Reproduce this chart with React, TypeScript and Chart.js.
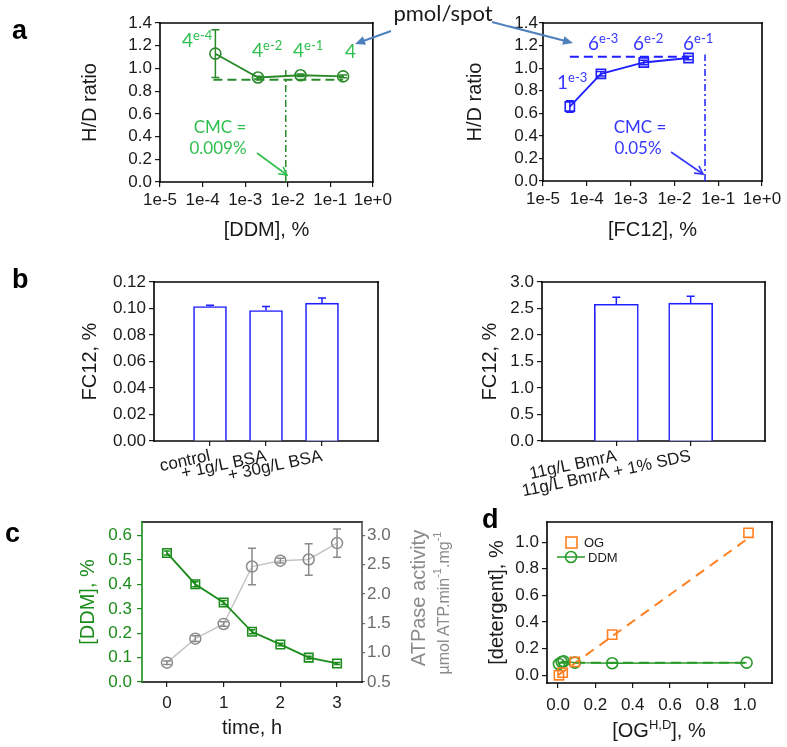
import React, { useEffect, useRef } from 'react';
import { Chart, registerables } from 'chart.js';
Chart.register(...registerables);

// ---------------- data ----------------
const DECADE_TICKS = [1e-5, 1e-4, 1e-3, 1e-2, 1e-1, 1];
const RATIO_TICKS = [0, 0.2, 0.4, 0.6, 0.8, 1.0, 1.2, 1.4];

const ddmConc = [2e-4, 2e-3, 2e-2, 2e-1];
const ddmRatio = [1.13, 0.92, 0.94, 0.93];
const ddmRatioErr = [0.21, 0.012, 0.012, 0.012];
const ddmPlateauX = [1.8e-4, 2e-1];
const ddmPlateauY = [0.9, 0.9];
const ddmCmcX = [0.009, 0.009];
const ddmCmcY = [0, 1.01];

const fcConc = [4.1e-5, 2.1e-4, 2.0e-3, 2.1e-2];
const fcRatio = [0.66, 0.95, 1.05, 1.09];
const fcRatioErr = [0.05, 0.02, 0.02, 0.015];
const fcPlateauX = [4.1e-5, 2.0e-2];
const fcPlateauY = [1.1, 1.1];
const fcCmcX = [0.05, 0.05];
const fcCmcY = [0, 1.12];

const bsaLabels = ['control', '+ 1g/L BSA', '+ 30g/L BSA'];
const bsaFc12 = [0.1015, 0.0985, 0.104];
const bsaFc12Err = [0.001, 0.003, 0.004];
const bsaTicks = [0, 0.02, 0.04, 0.06, 0.08, 0.1, 0.12];

const bmrLabels = ['11g/L BmrA', '11g/L BmrA + 1% SDS'];
const bmrFc12 = [2.58, 2.6];
const bmrFc12Err = [0.13, 0.13];
const bmrTicks = [0, 0.5, 1, 1.5, 2, 2.5, 3];

const timeH = [0, 0.5, 1, 1.5, 2, 2.5, 3];
const ddmOverTime = [0.529, 0.401, 0.326, 0.206, 0.154, 0.1, 0.076];
const ddmOverTimeErr = [0.008, 0.01, 0.008, 0.008, 0.005, 0.006, 0.004];
const atpaseActivity = [0.83, 1.24, 1.49, 2.47, 2.57, 2.59, 2.87];
const atpaseErr = [0.03, 0.05, 0.04, 0.31, 0.04, 0.27, 0.24];
const timeTicks = [0, 1, 2, 3];
const ddmTimeTicks = [0, 0.1, 0.2, 0.3, 0.4, 0.5, 0.6];
const atpaseTicks = [0.5, 1.0, 1.5, 2.0, 2.5, 3.0];

const ogInput = [0.005, 0.025, 0.09, 0.29, 1.02];
const ogMeasured = [0.0, 0.02, 0.1, 0.305, 1.07];
const ogFitX = [0, 1.01];
const ogFitY = [0, 1.02];
const ddmInput = [0.005, 0.02, 0.03, 0.09, 0.29, 1.01];
const ddmMeasured = [0.085, 0.1, 0.105, 0.095, 0.09, 0.095];
const ddmFitX = [0.005, 1.01];
const ddmFitY = [0.095, 0.095];
const detTicks = [0, 0.2, 0.4, 0.6, 0.8, 1.0];

// ---------------- styles ----------------
const SANS = "'Liberation Sans', Arial, sans-serif";
const ANNOT = "Lato, 'Open Sans', sans-serif";
const TICK_FONT = { family: SANS, size: 17 };
const TITLE_FONT = { family: SANS, size: 20, lineHeight: 1.2 };
const INK = '#1a1a1a';
const GREEN_A = '#2a8a2a';
const GREEN_T = '#2fbf4f';
const BLUE = '#1f1fff';
const BLUE_T = '#3636ff';
const GREEN_C = '#1b8c1b';
const GREY_L = '#c4c4c4';
const GREY_M = '#8a8a8a';
const GREY_T = '#6b6b6b';
const ORANGE = '#ff8020';
const GREEN_D = '#2a9a2a';
const ARROW_BLUE = '#4f81bd';

// ---------------- plugins ----------------
const errorBarPlugin = {
  id: 'errorBars',
  afterDatasetsDraw(chart: any) {
    const ctx = chart.ctx;
    chart.data.datasets.forEach((ds: any, i: number) => {
      if (!ds.errors) return;
      const meta = chart.getDatasetMeta(i);
      const ys = chart.scales[meta.yAxisID];
      ctx.save();
      ctx.strokeStyle = ds.errorColor || ds.borderColor;
      ctx.lineWidth = ds.errorWidth || 1.5;
      const cap = ds.errorCap ?? 4;
      meta.data.forEach((el: any, j: number) => {
        const raw = ds.data[j];
        if (raw == null) return;
        const v = typeof raw === 'object' ? raw.y : raw;
        const e = ds.errors[j];
        if (!e) return;
        const x = el.x;
        const yTop = ys.getPixelForValue(v + e);
        const yBot = ys.getPixelForValue(ds.errorUpOnly ? v : v - e);
        ctx.beginPath();
        ctx.moveTo(x, yTop);
        ctx.lineTo(x, yBot);
        ctx.moveTo(x - cap, yTop);
        ctx.lineTo(x + cap, yTop);
        if (!ds.errorUpOnly) {
          ctx.moveTo(x - cap, yBot);
          ctx.lineTo(x + cap, yBot);
        }
        ctx.stroke();
      });
      ctx.restore();
    });
  },
};

const framePlugin = {
  id: 'frame',
  beforeDatasetsDraw(chart: any, _args: any, opts: any) {
    const { left, right, top, bottom } = chart.chartArea;
    const ctx = chart.ctx;
    const sides: any[] = [
      ['top', left, top, right, top],
      ['right', right, top, right, bottom],
      ['bottom', left, bottom, right, bottom],
      ['left', left, top, left, bottom],
    ];
    ctx.save();
    ctx.lineWidth = opts.width ?? 1.6;
    ctx.lineCap = 'square';
    for (const [side, x1, y1, x2, y2] of sides) {
      ctx.strokeStyle = opts[side] || '#000';
      ctx.beginPath();
      ctx.moveTo(x1, y1);
      ctx.lineTo(x2, y2);
      ctx.stroke();
    }
    ctx.restore();
  },
};

// ---------------- helpers ----------------
function axisFromList(list: number[], fmt: (v: number) => string, color = INK, tickLen = 5, pad = 3) {
  return {
    afterBuildTicks: (s: any) => {
      s.ticks = list.map((v) => ({ value: v }));
    },
    ticks: { callback: (v: any) => fmt(Number(v)), font: TICK_FONT, color, padding: pad, autoSkip: false, maxRotation: 0, minRotation: 0 },
    grid: { drawOnChartArea: false, drawTicks: true, tickLength: tickLen, tickColor: color, lineWidth: 1.2 },
    border: { display: false },
  };
}

function title(text: string, color = INK) {
  return { display: true, text, font: TITLE_FONT, color, padding: 0 };
}

function baseOptions(padding: any, scales: any, frame: any = {}) {
  return {
    animation: false,
    responsive: false,
    devicePixelRatio: 1,
    events: [],
    layout: { padding },
    plugins: { legend: { display: false }, tooltip: { enabled: false }, frame },
    scales,
  };
}

const xy = (xs: number[], ys: number[]) => xs.map((x, i) => ({ x, y: ys[i] }));

// ---------------- configs ----------------
const makeA1 = () => ({
  type: 'line',
  data: {
    datasets: [
      { data: xy(ddmConc, ddmRatio), errors: ddmRatioErr, borderColor: GREEN_A, borderWidth: 1.8, pointStyle: 'circle', pointRadius: 5.5, pointBorderWidth: 1.6, pointBackgroundColor: 'rgba(0,0,0,0)', pointBorderColor: GREEN_A, errorCap: 4 },
      { data: xy(ddmPlateauX, ddmPlateauY), borderColor: GREEN_A, borderWidth: 2, borderDash: [9, 5], pointRadius: 0 },
      { data: xy(ddmCmcX, ddmCmcY), borderColor: GREEN_A, borderWidth: 1.5, borderDash: [7, 3, 2, 3], pointRadius: 0 },
    ],
  },
  options: baseOptions({ left: 78, top: 23, right: 17, bottom: 3 }, {
    x: { type: 'logarithmic', min: 1e-5, max: 1, ...axisFromList(DECADE_TICKS, (v) => v.toExponential(0)), title: title('[DDM], %'), afterFit: (s: any) => { s.height = 60; } },
    y: { type: 'linear', min: 0, max: 1.4, ...axisFromList(RATIO_TICKS, (v) => v.toFixed(1)), title: title('H/D ratio'), afterFit: (s: any) => { s.width = 82; } },
  }),
  plugins: [framePlugin, errorBarPlugin],
});

const makeA2 = () => ({
  type: 'line',
  data: {
    datasets: [
      { data: xy(fcConc, fcRatio), errors: fcRatioErr, borderColor: BLUE, borderWidth: 1.8, pointStyle: 'rect', pointRadius: 6.5, pointBorderWidth: 1.6, pointBackgroundColor: 'rgba(0,0,0,0)', pointBorderColor: BLUE, errorCap: 4 },
      { data: xy(fcPlateauX, fcPlateauY), borderColor: BLUE, borderWidth: 2, borderDash: [9, 5], pointRadius: 0 },
      { data: xy(fcCmcX, fcCmcY), borderColor: BLUE, borderWidth: 1.5, borderDash: [7, 3, 2, 3], pointRadius: 0 },
    ],
  },
  options: baseOptions({ left: 68, top: 23, right: 25, bottom: 3 }, {
    x: { type: 'logarithmic', min: 1e-5, max: 1, ...axisFromList(DECADE_TICKS, (v) => v.toExponential(0)), title: title('[FC12], %'), afterFit: (s: any) => { s.height = 61; } },
    y: { type: 'linear', min: 0, max: 1.4, ...axisFromList(RATIO_TICKS, (v) => v.toFixed(1), INK, 4, 1), title: title('H/D ratio'), afterFit: (s: any) => { s.width = 80; } },
  }),
  plugins: [framePlugin, errorBarPlugin],
});

function barConfig(labels: string[], values: number[], errs: number[], ticks: number[], digits: number, thickness: number, padding: any, yWidth: number) {
  const cats = ['', ...labels, ''];
  const n = cats.length;
  return {
    type: 'bar',
    data: {
      labels: cats,
      datasets: [
        { data: [null, ...values, null], errors: [0, ...errs, 0], errorUpOnly: true, errorCap: 4, backgroundColor: '#ffffff', borderColor: BLUE, borderWidth: 1.6, barThickness: thickness },
      ],
    },
    options: baseOptions(padding, {
      x: {
        type: 'category',
        offset: false,
        ticks: { font: { family: SANS, size: 17 }, color: INK, autoSkip: false, minRotation: 12, maxRotation: 12, padding: 0 },
        grid: { offset: false, drawOnChartArea: false, drawTicks: true, tickLength: 5, lineWidth: 1.2, tickColor: (c: any) => (c.index === 0 || c.index === n - 1 ? 'rgba(0,0,0,0)' : INK) },
        border: { display: false },
        afterFit: (s: any) => { s.height = 64; },
      },
      y: { type: 'linear', min: 0, max: ticks[ticks.length - 1], ...axisFromList(ticks, (v) => v.toFixed(digits)), title: title('FC12, %'), afterFit: (s: any) => { s.width = yWidth; } },
    }),
    plugins: [framePlugin, errorBarPlugin],
  };
}

const makeB1 = () => barConfig(bsaLabels, bsaFc12, bsaFc12Err, bsaTicks, 2, 33, { left: 78, top: 37, right: 17, bottom: 5 }, 76);
const makeB2 = () => barConfig(bmrLabels, bmrFc12, bmrFc12Err, bmrTicks, 1, 44, { left: 83, top: 37, right: 22, bottom: 5 }, 64);

const makeC = () => ({
  type: 'line',
  data: {
    datasets: [
      { data: xy(timeH, ddmOverTime), yAxisID: 'y', errors: ddmOverTimeErr, borderColor: GREEN_C, borderWidth: 1.8, pointStyle: 'rect', pointRadius: 6, pointBorderWidth: 1.6, pointBackgroundColor: 'rgba(0,0,0,0)', pointBorderColor: GREEN_C, errorCap: 3 },
      { data: xy(timeH, atpaseActivity), yAxisID: 'y2', errors: atpaseErr, errorColor: GREY_M, borderColor: GREY_L, borderWidth: 1.5, pointStyle: 'circle', pointRadius: 5.5, pointBorderWidth: 1.5, pointBackgroundColor: 'rgba(0,0,0,0)', pointBorderColor: GREY_M, errorCap: 4 },
    ],
  },
  options: baseOptions({ left: 76, top: 32, right: 0, bottom: 7 }, {
    x: { type: 'linear', min: -0.44, max: 3.44, ...axisFromList(timeTicks, (v) => String(v), INK, 5, 6), title: title('time, h'), afterFit: (s: any) => { s.height = 58; } },
    y: { type: 'linear', position: 'left', min: 0, max: 0.656, ...axisFromList(ddmTimeTicks, (v) => v.toFixed(1), GREEN_C, 5, 5), title: title('[DDM], %', GREEN_C), afterFit: (s: any) => { s.width = 66; } },
    y2: { type: 'linear', position: 'right', min: 0.5, max: 3.23, ...axisFromList(atpaseTicks, (v) => v.toFixed(1), GREY_T, 3, 2), afterFit: (s: any) => { s.width = 33; } },
  }, { left: GREEN_C, right: '#555555', top: '#000', bottom: '#000' }),
  plugins: [framePlugin, errorBarPlugin],
});

const makeD = () => ({
  type: 'line',
  data: {
    datasets: [
      { data: xy(ogInput, ogMeasured), showLine: false, borderColor: ORANGE, pointStyle: 'rect', pointRadius: 6.5, pointBorderWidth: 1.6, pointBackgroundColor: 'rgba(0,0,0,0)', pointBorderColor: ORANGE },
      { data: xy(ddmInput, ddmMeasured), borderColor: GREEN_D, borderWidth: 1.5, pointStyle: 'circle', pointRadius: 5.5, pointBorderWidth: 1.6, pointBackgroundColor: 'rgba(0,0,0,0)', pointBorderColor: GREEN_D },
      { data: xy(ogFitX, ogFitY), borderColor: ORANGE, borderWidth: 2, borderDash: [10, 7], pointRadius: 0 },
      { data: xy(ddmFitX, ddmFitY), borderColor: GREEN_D, borderWidth: 2, borderDash: [10, 6], pointRadius: 0 },
    ],
  },
  options: baseOptions({ left: 90, top: 32, right: 15, bottom: 24 }, {
    x: { type: 'linear', min: -0.059, max: 1.146, ...axisFromList(detTicks, (v) => v.toFixed(1), INK, 5, 7), afterFit: (s: any) => { s.height = 40; } },
    y: { type: 'linear', min: -0.058, max: 1.151, ...axisFromList(detTicks, (v) => v.toFixed(1)), title: title('[detergent], %'), afterFit: (s: any) => { s.width = 62; } },
  }),
  plugins: [framePlugin, errorBarPlugin],
});

// ---------------- components ----------------
function ChartCanvas({ x, y, w, h, make }: any) {
  const ref = useRef<HTMLCanvasElement>(null);
  useEffect(() => {
    const chart = new Chart(ref.current as HTMLCanvasElement, make());
    return () => chart.destroy();
  }, []);
  return <canvas ref={ref} width={w} height={h} style={{ position: 'absolute', left: x, top: y, width: w, height: h }} />;
}

function SupText({ x, y, base, sup, color }: any) {
  return (
    <text x={x} y={y} fill={color} fontFamily={ANNOT} fontSize={19}>
      {base}
      {sup ? <tspan dy={-7} fontSize={13}>{sup}</tspan> : null}
    </text>
  );
}

function Arrow({ x1, y1, x2, y2, color, width = 1.6, head = 10, filled = false }: any) {
  const ang = Math.atan2(y2 - y1, x2 - x1);
  const spread = filled ? 0.42 : 0.5;
  const p1 = [x2 - head * Math.cos(ang - spread), y2 - head * Math.sin(ang - spread)];
  const p2 = [x2 - head * Math.cos(ang + spread), y2 - head * Math.sin(ang + spread)];
  const endX = filled ? x2 - head * 0.8 * Math.cos(ang) : x2;
  const endY = filled ? y2 - head * 0.8 * Math.sin(ang) : y2;
  return (
    <g>
      <line x1={x1} y1={y1} x2={endX} y2={endY} stroke={color} strokeWidth={width} />
      {filled ? (
        <polygon points={`${p1[0]},${p1[1]} ${x2},${y2} ${p2[0]},${p2[1]}`} fill={color} />
      ) : (
        <polyline points={`${p1[0]},${p1[1]} ${x2},${y2} ${p2[0]},${p2[1]}`} fill="none" stroke={color} strokeWidth={width} />
      )}
    </g>
  );
}

function Overlay() {
  const letter = { fontFamily: SANS, fontSize: 27, fontWeight: 'bold' as const, fill: '#000' };
  return (
    <svg width={787} height={747} style={{ position: 'absolute', left: 0, top: 0, pointerEvents: 'none' }}>
      <text x={12} y={39} {...letter}>a</text>
      <text x={12} y={288} {...letter}>b</text>
      <text x={5} y={542} {...letter}>c</text>
      <text x={482} y={528} {...letter}>d</text>

      <text x={443} y={21} fontFamily={ANNOT} fontSize={22} fill="#1a1a1a" textAnchor="middle">pmol/spot</text>
      <Arrow x1={391} y1={31} x2={355} y2={44} color={ARROW_BLUE} width={2} head={11} filled />
      <Arrow x1={492} y1={22} x2={573} y2={43} color={ARROW_BLUE} width={2} head={11} filled />

      <SupText x={182} y={47} base="4" sup="e-4" color={GREEN_T} />
      <SupText x={252} y={57} base="4" sup="e-2" color={GREEN_T} />
      <SupText x={293} y={57} base="4" sup="e-1" color={GREEN_T} />
      <SupText x={345} y={58} base="4" color={GREEN_T} />
      <text x={220} y={133} fontFamily={ANNOT} fontSize={17} fill={GREEN_T} textAnchor="middle">CMC =</text>
      <text x={218} y={154} fontFamily={ANNOT} fontSize={17} fill={GREEN_T} textAnchor="middle">0.009%</text>
      <Arrow x1={257} y1={153} x2={287} y2={175} color={GREEN_T} width={1.6} head={9} />

      <SupText x={557} y={89} base="1" sup="e-3" color={BLUE_T} />
      <SupText x={588} y={50} base="6" sup="e-3" color={BLUE_T} />
      <SupText x={633} y={50} base="6" sup="e-2" color={BLUE_T} />
      <SupText x={683} y={50} base="6" sup="e-1" color={BLUE_T} />
      <text x={640} y={133} fontFamily={ANNOT} fontSize={17} fill={BLUE_T} textAnchor="middle">CMC =</text>
      <text x={638} y={154} fontFamily={ANNOT} fontSize={17} fill={BLUE_T} textAnchor="middle">0.05%</text>
      <Arrow x1={671} y1={152} x2={703} y2={174} color={BLUE_T} width={1.6} head={9} />

      <text transform="translate(418,598) rotate(-90)" fontFamily={SANS} fontSize={20} fill={GREY_M} textAnchor="middle" dominantBaseline="central">ATPase activity</text>
      <text transform="translate(443,603) rotate(-90)" fontFamily={SANS} fontSize={16} fill={GREY_M} textAnchor="middle" dominantBaseline="central">
        µmol ATP.min<tspan dy={-6} fontSize={11}>-1</tspan><tspan dy={6}>.mg</tspan><tspan dy={-6} fontSize={11}>-1</tspan>
      </text>

      <rect x={566} y={537} width={11} height={11} fill="none" stroke={ORANGE} strokeWidth={1.6} />
      <text x={584} y={547} fontFamily={SANS} fontSize={13} fill={INK}>OG</text>
      <line x1={557} y1={557} x2={585} y2={557} stroke={GREEN_D} strokeWidth={1.5} />
      <circle cx={571} cy={557} r={5.5} fill="none" stroke={GREEN_D} strokeWidth={1.6} />
      <text x={588} y={562} fontFamily={SANS} fontSize={13} fill={INK}>DDM</text>

      <text x={659} y={737} fontFamily={SANS} fontSize={20} fill={INK} textAnchor="middle">
        [OG<tspan dy={-8} fontSize={13}>H,D</tspan><tspan dy={8}>], %</tspan>
      </text>
    </svg>
  );
}

export default function App() {
  return (
    <div style={{ position: 'absolute', left: 0, top: 0, width: 787, height: 747, background: '#fff', overflow: 'hidden' }}>
      <ChartCanvas x={0} y={490} w={395} h={257} make={makeC} />
      <ChartCanvas x={395} y={490} w={392} h={257} make={makeD} />
      <ChartCanvas x={0} y={0} w={395} h={245} make={makeA1} />
      <ChartCanvas x={395} y={0} w={392} h={245} make={makeA2} />
      <ChartCanvas x={0} y={245} w={395} h={265} make={makeB1} />
      <ChartCanvas x={395} y={245} w={392} h={265} make={makeB2} />
      <Overlay />
    </div>
  );
}
